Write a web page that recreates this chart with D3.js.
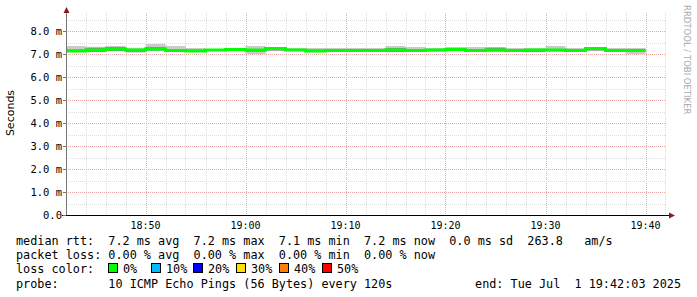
<!DOCTYPE html>
<html><head><meta charset="utf-8">
<script src="https://cdn.jsdelivr.net/npm/d3@7"></script>
<style>
html,body{margin:0;padding:0;background:#fff;}
svg{display:block;}
text{white-space:pre;}
</style></head>
<body>
<svg id="c" width="697" height="297"></svg>
<script>
// ---- data ----
const stepStart = ["18:42","18:44","18:46","18:48","18:50","18:52","18:54","18:56","18:58","19:00",
  "19:02","19:04","19:06","19:08","19:10","19:12","19:14","19:16","19:18","19:20",
  "19:22","19:24","19:26","19:28","19:30","19:32","19:34","19:36","19:38"];
const dataEnd = "19:40";
const medianMs = [7.13,7.17,7.22,7.17,7.22,7.15,7.13,7.17,7.20,7.17,
  7.24,7.17,7.13,7.15,7.15,7.15,7.17,7.15,7.17,7.20,
  7.15,7.17,7.15,7.17,7.17,7.15,7.24,7.15,7.15];
const maxMs = [7.35,7.32,7.35,7.27,7.43,7.35,7.26,7.22,7.26,7.35,
  7.30,7.26,7.26,7.26,7.26,7.26,7.35,7.30,7.26,7.30,
  7.30,7.30,7.26,7.26,7.35,7.26,7.30,7.26,7.26];
const minMs = [7.12,7.08,7.12,7.08,7.13,7.08,7.10,7.13,7.13,7.00,
  7.13,7.13,7.08,7.10,7.10,7.10,7.08,7.10,7.10,7.13,
  7.10,7.09,7.10,7.08,7.10,7.10,7.13,7.10,7.00];
const innerHiMs = [7.20,7.27,7.30,7.22,7.30,7.22,7.20,7.20,7.24,7.20,
  7.27,7.22,7.20,7.20,7.20,7.20,7.26,7.22,7.20,7.24,
  7.22,7.27,7.20,7.20,7.20,7.20,7.26,7.20,7.20];
const innerLoMs = [7.12,7.09,7.13,7.08,7.15,7.09,7.10,7.14,7.15,7.10,
  7.15,7.14,7.09,7.12,7.12,7.12,7.09,7.12,7.13,7.15,
  7.12,7.12,7.12,7.09,7.13,7.12,7.15,7.12,7.10];
const yTicks = [0,1,2,3,4,5,6,7,8];
const yTickLabels = ["0.0","1.0 m","2.0 m","3.0 m","4.0 m","5.0 m","6.0 m","7.0 m","8.0 m"];
const xTickLabels = ["18:50","19:00","19:10","19:20","19:30","19:40"];
const startTime = "18:42:03", endTime = "19:42:03";
const lossLabels = ["0%","10%","20%","30%","40%","50%"];
const lossColors = ["#00ff00","#00bbff","#0000ff","#ffe000","#ff8000","#ff0000"];
const legendLines = [
  "median rtt:  7.2 ms avg  7.2 ms max  7.1 ms min  7.2 ms now  0.0 ms sd  263.8   am/s",
  "packet loss: 0.00 % avg  0.00 % max  0.00 % min  0.00 % now"
];
const probeText = "probe:       10 ICMP Echo Pings (56 Bytes) every 120s";
const endText = "end: Tue Jul  1 19:42:03 2025";

// ---- helpers ----
const pt = s => { const p = s.split(":").map(Number); return new Date(2025,6,1,p[0],p[1],p[2]||0); };
const svg = d3.select("#c");
const L = 66, R = 666, B = 215, T = 13;
const x = d3.scaleTime().domain([pt(startTime), pt(endTime)]).range([L, R]);
const y = d3.scaleLinear().domain([0, 8]).range([B, 31]);
const mono = "'DejaVu Sans Mono', monospace";

// grid
const g = svg.append("g");
const minorX = d3.timeMinute.every(2).range(pt("18:43"), pt(endTime));
minorX.forEach(t => {
  const major = t.getMinutes() % 10 === 0;
  g.append("line").attr("x1", Math.round(x(t))+0.5).attr("x2", Math.round(x(t))+0.5)
    .attr("y1", T).attr("y2", B)
    .attr("stroke", major ? "#efa7a7" : "#dcdcdc").attr("stroke-dasharray", "1,1");
});
d3.range(0.5, 8.8, 0.5).forEach(v => {
  const major = Math.abs(v - Math.round(v)) < 1e-6;
  g.append("line").attr("x1", L).attr("x2", R)
    .attr("y1", Math.round(y(v))+0.5).attr("y2", Math.round(y(v))+0.5)
    .attr("stroke", major ? "#efa7a7" : "#dcdcdc").attr("stroke-dasharray", "1,1");
});

// data series
const pts = stepStart.map((s, i) => ({t: pt(s), med: medianMs[i], mx: maxMs[i], mn: minMs[i], ih: innerHiMs[i], il: innerLoMs[i]}));
const last = pts[pts.length - 1];
pts.push(Object.assign({}, last, {t: pt(dataEnd)}));
svg.append("clipPath").attr("id", "clip").append("rect").attr("x", L).attr("y", 0).attr("width", R - L).attr("height", B);
const dg = svg.append("g").attr("clip-path", "url(#clip)");
dg.append("path").datum(pts).attr("fill", "#cacaca")
  .attr("d", d3.area().curve(d3.curveStepAfter).x(d => x(d.t)).y0(d => y(d.mn)).y1(d => y(d.mx)));
dg.append("path").datum(pts).attr("fill", "#8e8e8e")
  .attr("d", d3.area().curve(d3.curveStepAfter).x(d => x(d.t)).y0(d => y(d.il)).y1(d => y(d.ih)));
dg.append("path").datum(pts).attr("fill", "none").attr("stroke", lossColors[0]).attr("stroke-width", 3)
  .attr("d", d3.line().curve(d3.curveStepAfter).x(d => x(d.t)).y(d => y(d.med)));

// axes
svg.append("line").attr("x1", L + 0.5).attr("x2", L + 0.5).attr("y1", B + 1).attr("y2", 10).attr("stroke", "#777");
svg.append("path").attr("d", `M${L-2.5},${13} L${L+0.5},${7} L${L+3.5},${13} Z`).attr("fill", "#8b1a1a");
svg.append("line").attr("x1", 62).attr("x2", 670).attr("y1", B + 0.5).attr("y2", B + 0.5).attr("stroke", "#000");
svg.append("path").attr("d", `M${669},${B-2.5} L${675},${B+0.5} L${669},${B+3.5} Z`).attr("fill", "#8b1a1a");

// y ticks
yTicks.forEach((v, i) => {
  svg.append("line").attr("x1", 63).attr("x2", L).attr("y1", Math.round(y(v)) + 0.5).attr("y2", Math.round(y(v)) + 0.5).attr("stroke", "#777");
  svg.append("text").attr("x", 62).attr("y", y(v) + 4).attr("text-anchor", "end")
    .attr("font-family", mono).attr("font-size", "10.5px").attr("fill", "#000").text(yTickLabels[i]);
});
xTickLabels.forEach(s => {
  svg.append("text").attr("x", x(pt(s))).attr("y", 229).attr("text-anchor", "middle")
    .attr("font-family", mono).attr("font-size", "10px").attr("fill", "#000").text(s);
});

// axis title
svg.append("text").attr("transform", "translate(14,113) rotate(-90)").attr("text-anchor", "middle")
  .attr("font-family", "'DejaVu Sans', sans-serif").attr("font-size", "11px").attr("fill", "#000").text("Seconds");
// watermark
svg.append("text").attr("transform", "translate(683.5,5) rotate(90)").attr("text-anchor", "start")
  .attr("font-family", "'DejaVu Sans', sans-serif").attr("font-size", "8.5px").attr("fill", "#aaa").text("RRDTOOL / TOBI OETIKER");

// legend
const lf = "11.8px";
legendLines.forEach((s, i) => {
  svg.append("text").attr("x", 16).attr("y", 245 + i * 14).attr("font-family", mono).attr("font-size", lf).attr("fill", "#000").text(s);
});
svg.append("text").attr("x", 16).attr("y", 273).attr("font-family", mono).attr("font-size", lf).attr("fill", "#000").text("loss color:");
const boxX = [108, 151, 193, 236, 279, 322];
lossLabels.forEach((s, i) => {
  svg.append("rect").attr("x", boxX[i] + 0.5).attr("y", 263.5).attr("width", 9).attr("height", 9)
    .attr("fill", lossColors[i]).attr("stroke", "#000").attr("stroke-width", 1);
  svg.append("text").attr("x", boxX[i] + 15).attr("y", 273).attr("font-family", mono).attr("font-size", lf).attr("fill", "#000").text(s);
});
svg.append("text").attr("x", 16).attr("y", 288).attr("font-family", mono).attr("font-size", lf).attr("fill", "#000").text(probeText);
svg.append("text").attr("x", 681).attr("y", 288).attr("text-anchor", "end").attr("font-family", mono).attr("font-size", lf).attr("fill", "#000").text(endText);
</script>
</body></html>
